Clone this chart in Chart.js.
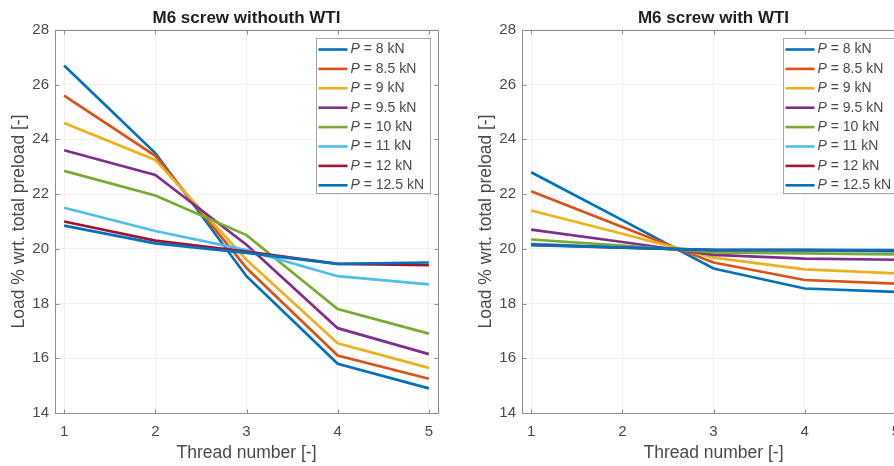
<!DOCTYPE html>
<html>
<head>
<meta charset="utf-8">
<script src="https://cdn.jsdelivr.net/npm/chart.js@4.4.1/dist/chart.umd.min.js"></script>
<style>
  html, body { margin: 0; padding: 0; background: #fff; }
  #wrap { position: relative; width: 894px; height: 466px; overflow: hidden; }
  #wrap canvas { position: absolute; top: 0; }
  #noWti { left: 0; }
  #withWti { left: 467px; }
</style>
</head>
<body>
<div id="wrap">
  <canvas id="noWti" width="450" height="466"></canvas>
  <canvas id="withWti" width="450" height="466"></canvas>
</div>
<script>
const threads = [1, 2, 3, 4, 5];
const loads = ['8', '8.5', '9', '9.5', '10', '11', '12', '12.5'];
const yTicks = [14, 16, 18, 20, 22, 24, 26, 28];
const lineColors = ['#0072BD', '#D95319', '#EDB120', '#7E2F8E', '#77AC30', '#4DBEEE', '#A2142F', '#0072BD'];

// share of the total preload carried by each thread, one row per preload P
const noWtiShare = [
  [26.7, 23.5, 19.0, 15.8, 14.9],
  [25.6, 23.4, 19.3, 16.1, 15.25],
  [24.6, 23.25, 19.6, 16.55, 15.65],
  [23.6, 22.7, 20.15, 17.1, 16.15],
  [22.85, 21.95, 20.5, 17.8, 16.9],
  [21.5, 20.65, 19.95, 19.0, 18.7],
  [21.0, 20.3, 19.9, 19.45, 19.4],
  [20.85, 20.2, 19.85, 19.45, 19.5]
];
const withWtiShare = [
  [22.8, 21.05, 19.28, 18.55, 18.43],
  [22.1, 20.8, 19.5, 18.86, 18.73],
  [21.4, 20.55, 19.68, 19.25, 19.1],
  [20.7, 20.25, 19.78, 19.64, 19.6],
  [20.34, 20.12, 19.87, 19.83, 19.8],
  [20.18, 20.05, 19.95, 19.93, 19.9],
  [20.15, 20.04, 19.95, 19.95, 19.93],
  [20.13, 20.04, 19.96, 19.96, 19.95]
];

const FONT = '"Liberation Sans", Arial, Helvetica, sans-serif';
const TEXT = '#4a4a4a';
const AXIS = '#8f8f8f';
const GRID = 'rgba(0,0,0,0.06)';

// MATLAB-style box with inward ticks, plus the legend in the top-right corner
const boxAndLegend = {
  id: 'boxAndLegend',
  afterDatasetsDraw(chart) {
    const { ctx, chartArea: a, scales: { x, y } } = chart;
    const L = Math.round(a.left) + 0.5, R = Math.round(a.right) + 0.5;
    const T = Math.round(a.top) + 0.5, B = Math.round(a.bottom) + 0.5;
    ctx.save();
    ctx.strokeStyle = AXIS;
    ctx.lineWidth = 1;
    ctx.beginPath();
    ctx.rect(L, T, R - L, B - T);
    x.ticks.forEach(t => {
      const p = Math.round(x.getPixelForValue(t.value)) + 0.5;
      ctx.moveTo(p, B); ctx.lineTo(p, B - 4);
      ctx.moveTo(p, T); ctx.lineTo(p, T + 4);
    });
    y.ticks.forEach(t => {
      const p = Math.round(y.getPixelForValue(t.value)) + 0.5;
      ctx.moveTo(L, p); ctx.lineTo(L + 4, p);
      ctx.moveTo(R, p); ctx.lineTo(R - 4, p);
    });
    ctx.stroke();

    const bw = 114, bh = 155, bx = R - 8 - bw, by = T + 8;
    ctx.fillStyle = '#fff';
    ctx.fillRect(bx, by, bw, bh);
    ctx.strokeStyle = '#a6a6a6';
    ctx.strokeRect(bx, by, bw, bh);
    ctx.textBaseline = 'middle';
    chart.data.datasets.forEach((ds, i) => {
      const cy = by + 11 + i * 19.4;
      ctx.strokeStyle = ds.borderColor;
      ctx.lineWidth = 2.6;
      ctx.beginPath();
      ctx.moveTo(bx + 2, cy); ctx.lineTo(bx + 31, cy);
      ctx.stroke();
      ctx.fillStyle = TEXT;
      ctx.font = 'italic 14px ' + FONT;
      ctx.fillText(ds.label[0], bx + 34, cy);
      const w = ctx.measureText(ds.label[0]).width;
      ctx.font = '14px ' + FONT;
      ctx.fillText(ds.label.slice(1), bx + 34 + w, cy);
    });
    ctx.restore();
  }
};

function makeChart(id, titleText, rows) {
  return new Chart(id, {
    type: 'line',
    data: {
      datasets: rows.map((vals, i) => ({
        label: 'P = ' + loads[i] + ' kN',
        data: vals.map((v, j) => ({ x: threads[j], y: v })),
        borderColor: lineColors[i],
        borderWidth: 2.7,
        pointRadius: 0,
        tension: 0,
        order: rows.length - i
      }))
    },
    options: {
      responsive: false,
      animation: false,
      events: [],
      layout: { padding: { left: 0, right: 12, top: 0, bottom: 0 } },
      plugins: {
        legend: { display: false },
        tooltip: { enabled: false },
        title: {
          display: true,
          text: titleText,
          fullSize: false,
          color: '#1f1f1f',
          font: { family: FONT, size: 17, weight: 'bold' },
          padding: { top: 8, bottom: 1.5 }
        }
      },
      scales: {
        x: {
          type: 'linear',
          min: 0.9,
          max: 5.1,
          afterBuildTicks: s => { s.ticks = threads.map(v => ({ value: v })); },
          afterFit: s => { s.height = 53; },
          grid: { color: GRID, drawTicks: false },
          border: { display: false },
          ticks: { color: TEXT, font: { family: FONT, size: 15 }, padding: 10 },
          title: {
            display: true,
            text: 'Thread number [-]',
            color: TEXT,
            font: { family: FONT, size: 17.5 },
            padding: { top: 0, bottom: 2 }
          }
        },
        y: {
          min: 14,
          max: 28,
          afterBuildTicks: s => { s.ticks = yTicks.map(v => ({ value: v })); },
          afterFit: s => { s.width = 55; },
          grid: { color: GRID, drawTicks: false },
          border: { display: false },
          ticks: { color: TEXT, font: { family: FONT, size: 15 }, padding: 6 },
          title: {
            display: true,
            text: 'Load % wrt. total preload [-]',
            color: TEXT,
            font: { family: FONT, size: 17.5 },
            padding: { top: 9, bottom: 0 }
          }
        }
      }
    },
    plugins: [boxAndLegend]
  });
}

makeChart('noWti', 'M6 screw withouth WTI', noWtiShare);
makeChart('withWti', 'M6 screw with WTI', withWtiShare);
</script>
</body>
</html>
